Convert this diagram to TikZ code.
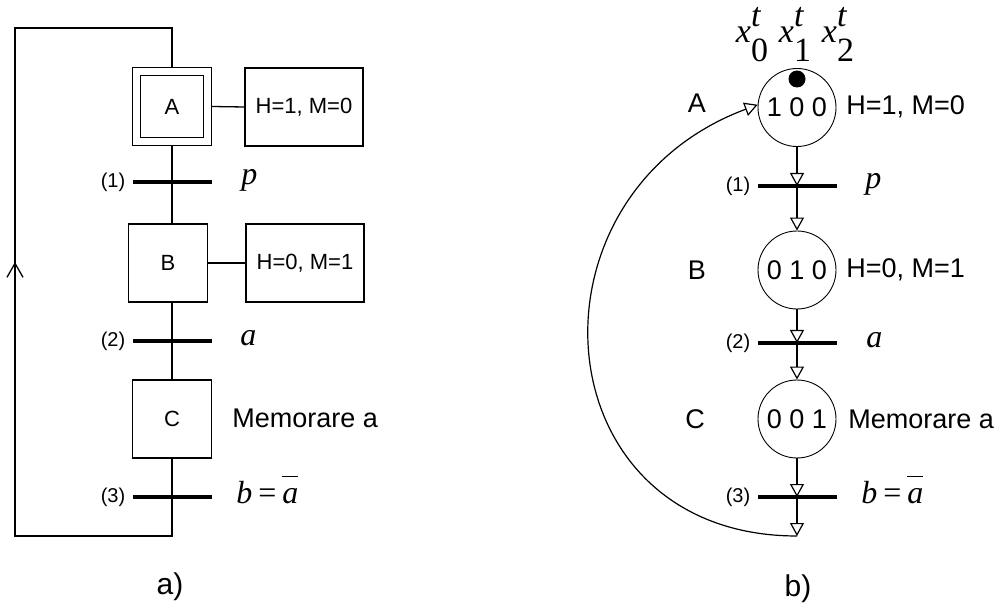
\documentclass[tikz,border=0pt]{standalone}
\usepackage{fontspec}
\setmainfont{Liberation Sans}
\newfontfamily\serif{Liberation Serif}
\usetikzlibrary{arrows.meta}
\newcommand{\xlab}[1]{{\serif\fontsize{17pt}{17pt}\selectfont\itshape x\rlap{\raisebox{8pt}{t}}\upshape\raisebox{-9.5pt}{#1}}}
\newcommand{\mvar}[1]{{\serif\fontsize{16pt}{16pt}\selectfont\itshape #1}}
\newcommand{\abar}{$\overline{\raisebox{0pt}[12pt]{\mvar{a}}}$}
\begin{document}
\begin{tikzpicture}[x=0.5pt,y=-0.5pt,
  every node/.style={inner sep=0pt},
  thin line/.style={line width=0.65pt},
  stepbox/.style={draw,line width=0.65pt,minimum width=39.5pt,minimum height=39pt,font=\fontsize{11pt}{13pt}\selectfont},
  innerbox/.style={draw,line width=0.65pt,minimum width=31.5pt,minimum height=31pt,font=\fontsize{11pt}{13pt}\selectfont},
  actbox/.style={draw,line width=0.65pt,minimum width=59pt,minimum height=39pt,font=\fontsize{11pt}{13pt}\selectfont},
  bar/.style={fill=black,minimum width=39.5pt,minimum height=2.4pt},
  place/.style={circle,draw,line width=0.45pt,minimum size=39pt,font=\fontsize{13.5pt}{15pt}\selectfont},
  tlab/.style={font=\fontsize{10pt}{12pt}\selectfont},
  big/.style={font=\fontsize{13.5pt}{15pt}\selectfont},
  captext/.style={font=\fontsize{15pt}{17pt}\selectfont},
  arr/.style={line width=0.6pt,-{Triangle[open,length=6.5pt,width=7pt]}},
]
\useasboundingbox (0,0) rectangle (998,610);

% ---------------- a) ----------------
\node[stepbox] (A) at (172,106.5) {};
\node[innerbox] (Ai) at (172,106.5) {A};
\node[actbox] (actA) at (304,107) {H=1, M=0};
\node[bar] (t1a) at (172,182) {};
\node[stepbox] (B) at (168,263) {B};
\node[actbox] (actB) at (305,263) {H=0, M=1};
\node[bar] (t2a) at (172,341) {};
\node[stepbox] (C) at (172,419) {C};
\node[big,anchor=west] (memA) at (232,418) {Memorare a};
\node[bar] (t3a) at (172,497) {};

\node[tlab] (l1a) at (113,182) {(1)};
\node[tlab] (l2a) at (113,341) {(2)};
\node[tlab] (l3a) at (113,497) {(3)};
\node[anchor=west] (ca1) at (241,180) {\mvar{p}};
\node[anchor=west] (ca2) at (240,338) {\mvar{a}};
\node[anchor=base west] (ca3) at (236,503) {\mvar{b}\hspace{3pt}{\serif\fontsize{16pt}{16pt}\selectfont =}\hspace{3pt}\abar};

\coordinate (bot) at (172,536);
\coordinate (bl) at (15,536);
\coordinate (mid) at (15,262);
\coordinate (tl) at (15,28);
\coordinate (tr) at (172,28);

\draw[thin line] (A.east) -- (actA.west);
\draw[thin line] (B.east) -- (actB.west);
\draw[thin line] (A.south) -- (t1a.center);
\draw[thin line] (t1a.center) -- (t1a |- B.north);
\draw[thin line] (t2a |- B.south) -- (t2a.center);
\draw[thin line] (t2a.center) -- (C.north);
\draw[thin line] (C.south) -- (t3a.center);
\draw[thin line] (t3a.center) -- (bot) -- (bl) -- (tl) -- (tr) -- (A.north);
\draw[thin line,-{Straight Barb[length=7pt,width=8pt]}] (bl) -- (mid);

\node[captext] (capa) at (170,587) {a)};

% ---------------- b) ----------------
\node[place] (Pa) at (797,107.5) {1 0 0};
\node[circle,fill=black,minimum size=8.5pt] (tok) at (797,79) {};
\node[place] (Pb) at (797,270) {0 1 0};
\node[place] (Pc) at (797,419) {0 0 1};

\node[anchor=base] (x0) at (752,43) {\xlab{0}};
\node[anchor=base] (x1) at (795,43) {\xlab{1}};
\node[anchor=base] (x2) at (838,43) {\xlab{2}};

\node[big] (nA) at (697,103) {A};
\node[big] (nB) at (697,270) {B};
\node[big] (nC) at (695,419) {C};
\node[big,anchor=west] (hA) at (846,107) {H=1, M=0};
\node[big,anchor=west] (hB) at (846,270) {H=0, M=1};
\node[big,anchor=west] (memB) at (848,419) {Memorare a};

\node[bar] (t1b) at (797,186) {};
\node[bar] (t2b) at (797,343) {};
\node[bar] (t3b) at (797,497) {};
\node[tlab] (l1b) at (738,186) {(1)};
\node[tlab] (l2b) at (738,343) {(2)};
\node[tlab] (l3b) at (738,497) {(3)};
\node[anchor=west] (cb1) at (865,184) {\mvar{p}};
\node[anchor=west] (cb2) at (866,340) {\mvar{a}};
\node[anchor=base west] (cb3) at (861,503) {\mvar{b}\hspace{3pt}{\serif\fontsize{16pt}{16pt}\selectfont =}\hspace{3pt}\abar};

\coordinate (e) at (797,536);
\draw[arr] (Pa.south) -- (t1b.center);
\draw[arr] (t1b.center) -- (Pb.north);
\draw[arr] (Pb.south) -- (t2b.center);
\draw[arr] (t2b.center) -- (Pc.north);
\draw[arr] (Pc.south) -- (t3b.center);
\draw[arr] (t3b.center) -- (e);
\draw[arr] (e) .. controls (540,536) and (516,195) .. (Pa.176);

\node[captext] (capb) at (798,589) {b)};
\end{tikzpicture}
\end{document}
